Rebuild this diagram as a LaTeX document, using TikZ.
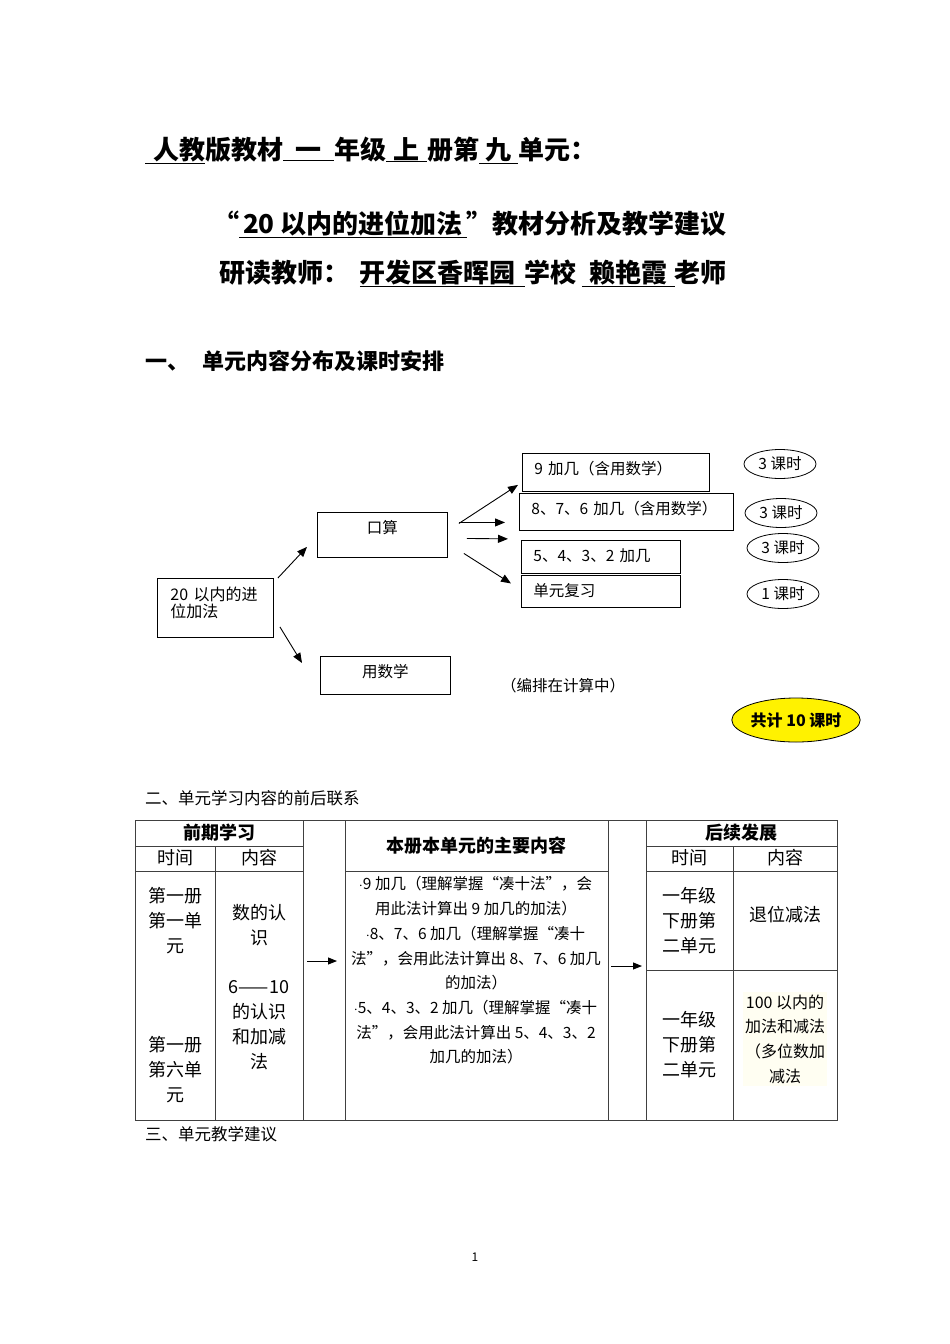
\documentclass[tikz,border=0pt]{standalone}
\usepackage{fontspec}
\setmainfont{Noto Sans CJK SC}
\usetikzlibrary{positioning,shapes.geometric,arrows.meta}
\newcommand\ul[1]{$\underline{\hbox{#1}}$}
\newcommand\fs[2]{\fontsize{#1}{#2}\selectfont}
\newcommand\dt{\kern-1pt$\cdot$}

\begin{document}
\begin{tikzpicture}[x=1pt, y=-1pt, >={Triangle[length=10pt,width=8pt]},
  title/.style={font=\fs{26}{30}\bfseries, inner sep=0pt},
  head/.style={font=\fs{22}{26}\bfseries, anchor=base west, inner sep=0pt},
  note/.style={font=\fs{16.5}{20}, anchor=base west, inner sep=0pt},
  box/.style={draw, line width=0.9pt, anchor=north west, inner xsep=12pt, inner ysep=0pt, text height=21.5pt, font=\fs{15.5}{18}},
  lbox/.style={box, align=left},
  oval/.style={draw, ellipse, line width=0.8pt, minimum width=72pt, minimum height=29pt, inner sep=0pt, font=\fs{15.5}{18}},
  cell/.style={align=center, inner sep=0pt, font=\fs{18}{25}},
  hcell/.style={cell, font=\fs{18}{25}\bfseries},
  small/.style={align=center, inner sep=0pt, font=\fs{15.5}{24.7}},
  grid/.style={draw=black!75, line width=0.8pt},
  tarrow/.style={->, >={Triangle[length=9pt,width=7pt]}, line width=1pt}]
  \fill[white] (0,0) rectangle (950,1344);
  \useasboundingbox (0,0) rectangle (950,1344);

  \node[title, anchor=base west] (t1) at (145,159) {\ul{\hspace{8pt}人教}版教材\ul{\hspace{12.5pt}一\hspace{12.5pt}}年级\ul{\hspace{7.5pt}上\hspace{7.5pt}}册第\ul{\hspace{6.5pt}九\hspace{6.5pt}}单元：};
  \node[title, anchor=base east] (t2) at (727,233) {“\ul{\hspace{4pt}20 以内的进位加法\hspace{4pt}}”教材分析及教学建议};
  \node[title, anchor=base east] (t3) at (727,282) {研读教师：\hspace{10pt}\ul{开发区香晖园\hspace{9pt}}学校\hspace{5pt}\ul{\hspace{7.5pt}赖艳霞\hspace{7.5pt}}老师};
  \node[head] (h1) at (145,369) {一、\hspace{13pt}单元内容分布及课时安排};

  \node[lbox, minimum width=116pt, text width=90pt, inner xsep=13pt, text height=22pt, text depth=37pt, font=\fs{16}{17}] (root) at (157,578) {20 以内的进\\位加法};
  \node[box, minimum width=130pt, text depth=23.5pt] (ks) at (317,512) {口算};
  \node[box, minimum width=130pt, text depth=16.5pt] (ys) at (320,656) {用数学};
  \node[lbox, text width=163pt, text depth=16.5pt] (b9) at (522,453) {9 加几（含用数学）};
  \node[lbox, text width=190pt, text depth=15.5pt] (b876) at (519,493) {8、7、6 加几（含用数学）};
  \node[lbox, text width=135pt, text depth=11.5pt] (b5432) at (521,540) {5、4、3、2 加几};
  \node[lbox, text width=135pt, text depth=10.5pt] (bfx) at (521,575) {单元复习};

  \draw[->, line width=0.9pt] ([xshift=4pt]root.north east) -- ([xshift=-10pt,yshift=11pt]ks.south west);
  \draw[->, line width=0.9pt] ([xshift=6pt,yshift=11pt]root.south east) -- ([xshift=-18pt,yshift=-7pt]ys.north west);
  \draw[->, line width=0.9pt] ([xshift=11pt,yshift=11.5pt]ks.east) -- ([xshift=-4pt,yshift=7pt]b9.south west);
  \draw[->, line width=0.9pt] ([xshift=11pt,yshift=12.5pt]ks.east) -- ([xshift=-14pt,yshift=-10.5pt]b876.west);
  \draw[->, line width=0.9pt] ([xshift=19pt,yshift=-3.5pt]ks.east) -- ([xshift=-11pt,yshift=-8pt]b876.south west);
  \draw[->, line width=0.9pt] ([xshift=16pt,yshift=-18.5pt]ks.east) -- ([xshift=-10pt,yshift=8pt]bfx.west);

  \node[oval] (o1) at (780,464) {3 课时};
  \node[oval] (o2) at (781,513) {3 课时};
  \node[oval] (o3) at (783,548) {3 课时};
  \node[oval] (o4) at (783,594) {1 课时};
  \node[font=\fs{15.5}{18}, inner sep=0pt] (bp) at (563,686) {（编排在计算中）};
  \node[draw, ellipse, fill=yellow, line width=0.8pt, minimum width=126pt, minimum height=44pt, inner sep=0pt, font=\fs{16}{18}\bfseries] (sum) at (796,720) {共计 10 课时};

  \node[note] (h2) at (145,804) {二、单元学习内容的前后联系};

  \draw[grid] (135,820) rectangle (837,1120);
  \foreach \x in {303,345,608,646} \draw[grid] (\x,820) -- (\x,1120);
  \foreach \x in {215,733} \draw[grid] (\x,846) -- (\x,1120);
  \draw[grid] (135,846) -- (303,846) (646,846) -- (837,846);
  \draw[grid] (135,871) -- (303,871) (345,871) -- (608,871) (646,871) -- (837,871);
  \draw[grid] (646,970) -- (837,970);

  \node[hcell] (qq) at (219,833) {前期学习};
  \node[cell] (qt) at (175,858) {时间};
  \node[cell] (qn) at (259,858) {内容};
  \node[hcell] (bc) at (476,846) {本册本单元的主要内容};
  \node[hcell] (hx) at (741,833) {后续发展};
  \node[cell] (ht) at (689,858) {时间};
  \node[cell] (hn) at (785,858) {内容};

  \node[cell] (qt1) at (175,921) {第一册\\第一单\\元};
  \node[cell] (qt2) at (175,1070) {第一册\\第六单\\元};
  \node[cell] (qn1) at (259,925.5) {数的认\\识};
  \node[cell] (qn2) at (259,1025) {6——10\\的认识\\和加减\\法};
  \node[small] (main) at (476,970.5) {\dt 9 加几（理解掌握“凑十法”，会\\用此法计算出 9 加几的加法）\\\dt 8、7、6 加几（理解掌握“凑十\\法”，会用此法计算出 8、7、6 加几\\的加法）\\\dt 5、4、3、2 加几（理解掌握“凑十\\法”，会用此法计算出 5、4、3、2\\加几的加法）};
  \node[cell] (ht1) at (689,921) {一年级\\下册第\\二单元};
  \node[cell] (hn1) at (785,915) {退位减法};
  \node[cell] (ht2) at (689,1045) {一年级\\下册第\\二单元};
  \node[small, font=\fs{16}{24.7}, fill=yellow!5, inner xsep=2pt, inner ysep=3pt] (hn2) at (785,1039) {100 以内的\\加法和减法\\（多位数加\\减法};

  \coordinate (p1) at (307,961);
  \coordinate (p2) at (337,961);
  \coordinate (q1) at (611,966);
  \coordinate (q2) at (642,966);
  \draw[tarrow] (p1) -- (p2);
  \draw[tarrow] (q1) -- (q2);

  \node[note] (h3) at (145,1140) {三、单元教学建议};
  \node[font=\fs{12}{14}, inner sep=0pt] (pg) at (475,1257) {1};
\end{tikzpicture}
\end{document}
